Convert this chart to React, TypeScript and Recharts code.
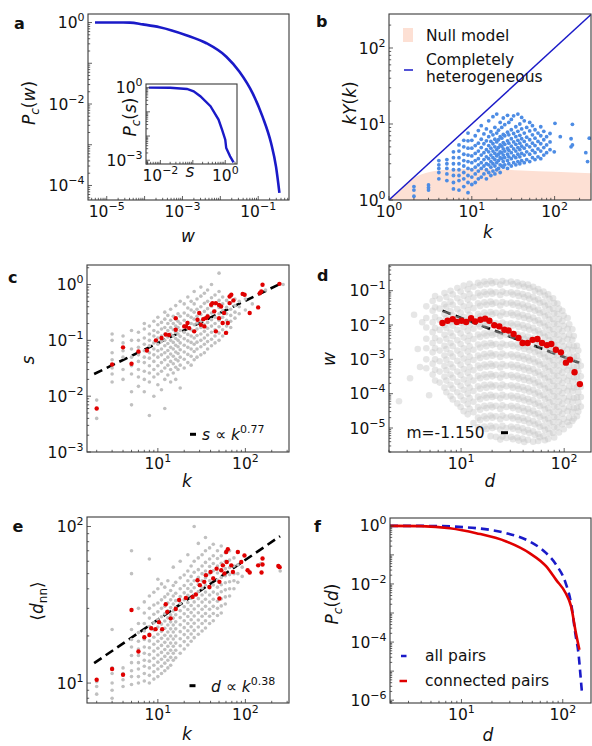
import React from 'react';
import { ComposedChart, Scatter, Line, Area, XAxis, YAxis } from 'recharts';

const FONT = 'DejaVu Sans, sans-serif';
const AX = '#3a3a3a';
const TXT = '#111';
const BLUE = '#1a1ac8';
const RED = '#e00000';
const GRAY = '#c0c0c0';
const SKY = '#4d8ce4';
const SALMON = '#fde0d4';

// ---- a: P_c(w)
const aW = [4.9e-6, 1.5e-5, 4.1e-5, 9e-5, 2.5e-4, 1.26e-3, 4.3e-3, 0.0144, 0.032, 0.072, 0.13, 0.22, 0.295, 0.363];
const aP = [1, 1, 0.995, 0.9, 0.77, 0.49, 0.31, 0.145, 0.062, 0.018, 0.0049, 0.00107, 2.9e-4, 6.6e-5];
// inset: P_c(s)
const sS = [0.0044, 0.02, 0.066, 0.106, 0.17, 0.35, 0.62, 0.8, 1.0, 1.07, 1.41, 1.8];
const sP = [1, 0.99, 0.88, 0.7, 0.44, 0.17, 0.048, 0.018, 0.0071, 0.0032, 0.00145, 0.00082];

// ---- b: kY(k)
const bNullK = [1, 1.15, 1.35, 1.8, 2.4, 3.2, 5, 10, 20, 40, 100, 275];
const bNullHi = [1, 1.12, 1.35, 1.83, 2.15, 2.35, 2.5, 2.58, 2.55, 2.45, 2.35, 2.25];
const bDiagK = [1, 275];
const bCols: [number, number[]][] = [
  [2, [1.12, 1.35, 1.5]],
  [3, [1.35, 1.45, 1.58]],
  [4, [1.9, 2.3, 2.6, 2.9, 3.3]],
  [5, [1.8, 2.2, 2.6, 3.0, 3.4]],
  [6, [1.4, 1.7, 2.1, 2.5, 3.0, 3.6, 4.3]],
  [7, [1.35, 1.8, 2.1, 2.5, 3.0, 3.6, 4.4, 5.3]],
  [8, [1.5, 1.9, 2.3, 2.8, 3.3, 4.0, 5.0, 6.1]],
  [9, [1.25, 1.7, 2.1, 2.6, 3.2, 3.9, 4.8, 6.0, 7.6]],
  [10, [1.6, 2.0, 2.5, 3.1, 3.8, 4.8, 6.1]],
  [11, [1.7, 2.2, 2.7, 3.3, 4.1, 5.2, 7.0]],
  [12, [1.9, 2.4, 2.9, 3.5, 4.4, 5.6, 8.2]],
  [13, [2.0, 2.6, 3.1, 3.9, 4.9, 6.3, 9.5]],
  [14, [2.2, 2.8, 3.4, 4.2, 5.5, 7.4]],
  [15, [1.9, 2.5, 3.0, 3.7, 4.6, 6.0, 8.6]],
  [16, [2.3, 2.9, 3.5, 4.3, 5.2, 6.8, 11]],
  [17, [2.1, 2.7, 3.2, 3.9, 4.8, 5.9, 7.9]],
  [18, [2.4, 3.0, 3.6, 4.4, 5.5, 7.2, 12.5]],
  [19, [2.2, 2.8, 3.4, 4.1, 5.0, 6.3, 9.0]],
  [20, [2.5, 3.1, 3.8, 4.6, 5.8, 7.6, 13.5]],
  [21, [2.6, 3.3, 4.0, 4.9, 6.2, 8.3]],
  [22, [2.3, 2.9, 3.6, 4.3, 5.3, 6.8, 10.5]],
  [23, [2.8, 3.5, 4.2, 5.1, 6.5, 9.0]],
  [24, [2.7, 3.2, 3.9, 4.7, 5.7, 7.3, 12.0]],
  [25, [2.9, 3.6, 4.4, 5.4, 7.0, 9.8]],
  [27, [2.6, 3.3, 4.0, 4.8, 6.0, 7.8, 13.0]],
  [28, [3.0, 3.7, 4.5, 5.6, 7.2, 10.5]],
  [30, [2.8, 3.5, 4.2, 5.1, 6.4, 8.4, 11.5]],
  [32, [3.1, 3.8, 4.7, 5.8, 7.5, 12.8]],
  [34, [2.9, 3.6, 4.4, 5.4, 6.8, 9.2]],
  [36, [3.2, 4.0, 4.9, 6.1, 8.0, 13.5]],
  [38, [3.0, 3.7, 4.6, 5.6, 7.1, 10.0]],
  [40, [3.3, 4.1, 5.1, 6.4, 8.6, 12.2]],
  [43, [3.1, 3.9, 4.8, 5.9, 7.6, 11.0]],
  [46, [3.4, 4.3, 5.3, 6.7, 9.0]],
  [50, [3.2, 4.0, 5.0, 6.2, 8.1, 10.5]],
  [54, [3.6, 4.5, 5.6, 7.2, 9.5]],
  [58, [3.4, 4.2, 5.2, 6.5, 8.4]],
  [63, [3.7, 4.7, 5.9, 7.6]],
  [68, [3.5, 4.4, 5.5, 7.0, 9.2]],
  [74, [3.9, 4.9, 6.2, 8.0]],
  [80, [4.2, 5.3, 6.8]],
  [88, [4.6, 5.8, 7.5]],
  [99, [4.3]],
  [101, [10.2]],
  [117, [6.8]],
  [158, [5.0, 6.4]],
  [164, [5.3, 9.9]],
  [238, [4.2]],
  [250, [3.2]],
  [262, [6.5]],
];

// ---- c: s vs k
const cGray: [number, number[]][] = [
  [2, [0.004, 0.0085]],
  [3, [0.018, 0.025, 0.032, 0.045, 0.06, 0.1, 0.13]],
  [4, [0.02, 0.03, 0.05, 0.065, 0.09, 0.12]],
  [5, [0.007, 0.012, 0.025, 0.035, 0.05, 0.07, 0.1, 0.15]],
  [6, [0.015, 0.022, 0.03, 0.042, 0.055, 0.075, 0.1, 0.14]],
  [7, [0.012, 0.02, 0.028, 0.04, 0.05, 0.065, 0.085, 0.11, 0.16, 0.2]],
  [8, [0.0045, 0.018, 0.026, 0.035, 0.048, 0.06, 0.08, 0.1, 0.13, 0.18]],
  [9, [0.01, 0.022, 0.03, 0.042, 0.055, 0.07, 0.09, 0.12, 0.15, 0.22]],
  [10, [0.016, 0.025, 0.035, 0.05, 0.065, 0.085, 0.11, 0.14, 0.19, 0.26]],
  [11, [0.013, 0.028, 0.04, 0.055, 0.07, 0.095, 0.12, 0.16, 0.21]],
  [12, [0.006, 0.02, 0.032, 0.045, 0.06, 0.08, 0.1, 0.13, 0.17, 0.24, 0.32]],
  [13, [0.024, 0.036, 0.05, 0.066, 0.088, 0.115, 0.15, 0.2, 0.28]],
  [14, [0.018, 0.03, 0.042, 0.057, 0.075, 0.1, 0.13, 0.17, 0.23, 0.36]],
  [15, [0.026, 0.038, 0.052, 0.07, 0.092, 0.12, 0.155, 0.2, 0.27]],
  [16, [0.02, 0.033, 0.046, 0.062, 0.082, 0.108, 0.14, 0.18, 0.24, 0.42]],
  [17, [0.03, 0.043, 0.058, 0.077, 0.1, 0.13, 0.17, 0.22, 0.3]],
  [18, [0.014, 0.036, 0.05, 0.068, 0.09, 0.118, 0.15, 0.2, 0.27, 0.5]],
  [20, [0.032, 0.046, 0.062, 0.082, 0.107, 0.14, 0.18, 0.23, 0.31, 0.45]],
  [22, [0.04, 0.056, 0.075, 0.098, 0.128, 0.165, 0.21, 0.28, 0.38, 0.6]],
  [24, [0.036, 0.052, 0.07, 0.092, 0.12, 0.155, 0.2, 0.26, 0.35, 0.5]],
  [26, [0.045, 0.063, 0.085, 0.11, 0.145, 0.19, 0.24, 0.32, 0.45, 0.75]],
  [28, [0.05, 0.07, 0.093, 0.122, 0.16, 0.205, 0.27, 0.36, 0.55]],
  [31, [0.055, 0.077, 0.1, 0.13, 0.17, 0.22, 0.29, 0.4, 0.62, 0.9]],
  [34, [0.06, 0.085, 0.11, 0.145, 0.19, 0.25, 0.33, 0.46, 0.7]],
  [37, [0.07, 0.095, 0.125, 0.165, 0.21, 0.28, 0.37, 0.5, 0.8]],
  [41, [0.08, 0.105, 0.14, 0.18, 0.235, 0.31, 0.41, 0.58, 1.0]],
  [45, [0.09, 0.12, 0.155, 0.2, 0.26, 0.34, 0.45, 0.65]],
  [50, [0.1, 0.135, 0.175, 0.23, 0.3, 0.39, 0.52, 0.75, 1.6]],
  [55, [0.12, 0.155, 0.2, 0.26, 0.34, 0.45, 0.6]],
  [61, [0.14, 0.18, 0.23, 0.3, 0.39, 0.52]],
  [68, [0.17, 0.22, 0.28, 0.36, 0.47, 0.62]],
  [76, [0.25, 0.32, 0.42, 0.55]],
  [85, [0.3, 0.4, 0.5]],
  [100, [0.35, 0.55]],
  [120, [0.45]],
  [170, [0.8]],
  [270, [1.0]],
];
const cRed: [number, number][] = [
  [2, 0.006], [3, 0.037], [4, 0.075], [5, 0.038], [6, 0.063], [7.5, 0.066], [9.5, 0.1], [11, 0.11],
  [12.3, 0.127], [13.4, 0.125], [16, 0.155], [16, 0.25], [20, 0.178], [21, 0.178], [21.8, 0.205],
  [22.8, 0.166], [26, 0.145], [28.4, 0.234], [29.7, 0.31], [31, 0.19], [33, 0.24], [34, 0.178],
  [35.5, 0.25], [37, 0.268], [40.7, 0.434], [42, 0.465], [44, 0.33], [46, 0.145], [46, 0.465],
  [50, 0.25], [50, 0.43], [52.8, 0.405], [55, 0.205], [57, 0.31], [60, 0.136], [63, 0.205],
  [66, 0.61], [66, 0.465], [69, 0.655], [73, 0.52], [93, 0.68], [98, 0.655], [112, 0.31],
  [140, 0.39], [146, 0.7], [152, 0.75], [157, 0.99], [245, 1.03],
];
const cFit: [number, number][] = [[1.87, 0.025], [250, 1.03]];

// ---- d: w vs d (dense cloud, read column by column)
const dGray: [number, number[]][] = [
  [2.5, [6e-5]], [3.2, [2.8e-4]], [3.5, [0.02]], [3.8, [0.002]], [4.0, [6e-4]], [4.2, [0.012]], [4.9, [9e-5]],
  [4.6, [0.035, 0.016, 0.0085, 0.004, 0.0021, 0.001, 5.5e-4]],
  [5.3, [0.05, 0.026, 0.012, 0.0062, 0.003, 0.0016, 7.5e-4, 3.6e-4]],
  [5.6, [0.07, 0.033, 0.017, 0.0082, 0.0042, 0.0021, 0.001, 5e-4, 2.4e-4]],
  [6.2, [0.058, 0.03, 0.014, 0.0072, 0.0035, 0.0018, 8.8e-4, 4.4e-4, 2.1e-4]],
  [6.9, [0.085, 0.04, 0.021, 0.01, 0.0052, 0.0025, 0.0013, 6.4e-4, 3.1e-4, 1.5e-4]],
  [7.2, [0.065, 0.034, 0.016, 0.0082, 0.004, 0.002, 0.00098, 4.8e-4, 2.4e-4, 1.1e-4]],
  [7.9, [0.1, 0.048, 0.025, 0.012, 0.006, 0.003, 0.0015, 7.3e-4, 3.6e-4, 1.8e-4, 8.5e-5]],
  [8.3, [0.078, 0.039, 0.019, 0.0095, 0.0047, 0.0024, 0.0012, 5.8e-4, 2.9e-4, 1.4e-4, 6.8e-5]],
  [9.2, [0.12, 0.06, 0.029, 0.015, 0.0073, 0.0036, 0.0018, 9e-4, 4.4e-4, 2.2e-4, 1.1e-4, 5.2e-5]],
  [9.9, [0.095, 0.046, 0.023, 0.0115, 0.0057, 0.0028, 0.0014, 7e-4, 3.5e-4, 1.7e-4, 8.4e-5, 4.1e-5]],
  [10.6, [0.14, 0.07, 0.035, 0.017, 0.0086, 0.0043, 0.0021, 0.00105, 5.2e-4, 2.6e-4, 1.3e-4, 6.4e-5, 3.1e-5]],
  [11.6, [0.11, 0.055, 0.027, 0.0135, 0.0068, 0.0034, 0.0017, 8.3e-4, 4.1e-4, 2e-4, 1e-4, 5e-5, 2.5e-5]],
  [12.1, [0.16, 0.08, 0.039, 0.02, 0.0098, 0.0049, 0.0024, 0.0012, 6e-4, 3e-4, 1.5e-4, 7.4e-5, 3.6e-5]],
  [13.2, [0.13, 0.063, 0.031, 0.0155, 0.0078, 0.0039, 0.0019, 9.6e-4, 4.8e-4, 2.4e-4, 1.2e-4, 5.8e-5, 2.9e-5, 1.4e-5]],
  [14.6, [0.17, 0.086, 0.043, 0.021, 0.0107, 0.0053, 0.0027, 0.0013, 6.6e-4, 3.3e-4, 1.65e-4, 8.2e-5, 4.1e-5, 2e-5, 1.05e-5]],
  [15.3, [0.145, 0.072, 0.036, 0.018, 0.009, 0.0045, 0.0022, 0.0011, 5.6e-4, 2.8e-4, 1.4e-4, 6.9e-5, 3.4e-5, 1.7e-5]],
  [16.8, [0.185, 0.092, 0.046, 0.023, 0.0115, 0.0057, 0.0029, 0.00143, 7.1e-4, 3.6e-4, 1.8e-4, 8.9e-5, 4.4e-5, 2.2e-5, 1.1e-5]],
  [17.6, [0.155, 0.078, 0.039, 0.0195, 0.0097, 0.0049, 0.0024, 0.0012, 6.1e-4, 3e-4, 1.5e-4, 7.6e-5, 3.8e-5, 1.9e-5, 9.4e-6]],
  [19.3, [0.19, 0.095, 0.048, 0.024, 0.012, 0.006, 0.003, 0.0015, 7.4e-4, 3.7e-4, 1.85e-4, 9.2e-5, 4.6e-5, 2.3e-5, 1.15e-5, 5.8e-6]],
  [20.1, [0.165, 0.082, 0.041, 0.0205, 0.0102, 0.0051, 0.0026, 0.00128, 6.4e-4, 3.2e-4, 1.6e-4, 8e-5, 4e-5, 2e-5, 1e-5]],
  [21.8, [0.18, 0.09, 0.045, 0.0225, 0.0112, 0.0056, 0.0028, 0.0014, 7e-4, 3.5e-4, 1.75e-4, 8.7e-5, 4.4e-5, 2.2e-5, 1.1e-5, 5.5e-6]],
  [24, [0.15, 0.075, 0.037, 0.0186, 0.0093, 0.0047, 0.0023, 0.00117, 5.8e-4, 2.9e-4, 1.46e-4, 7.3e-5, 3.6e-5, 1.8e-5, 9e-6, 4.6e-6]],
  [25.2, [0.19, 0.094, 0.047, 0.0235, 0.0118, 0.0059, 0.0029, 0.00147, 7.3e-4, 3.7e-4, 1.83e-4, 9.2e-5, 4.6e-5, 2.3e-5, 1.15e-5, 5.7e-6]],
  [27.5, [0.17, 0.084, 0.042, 0.021, 0.0105, 0.0052, 0.0026, 0.0013, 6.5e-4, 3.3e-4, 1.64e-4, 8.2e-5, 4.1e-5, 2e-5, 1e-5, 5.1e-6]],
  [30.5, [0.185, 0.09, 0.045, 0.0226, 0.0113, 0.0056, 0.0028, 0.0014, 7e-4, 3.5e-4, 1.76e-4, 8.8e-5, 4.4e-5, 2.2e-5, 1.1e-5, 5.5e-6]],
  [31.8, [0.155, 0.077, 0.039, 0.0194, 0.0097, 0.0048, 0.0024, 0.0012, 6e-4, 3e-4, 1.5e-4, 7.6e-5, 3.8e-5, 1.9e-5, 9.5e-6, 4.7e-6]],
  [35, [0.175, 0.087, 0.044, 0.0218, 0.0109, 0.0055, 0.0027, 0.00136, 6.8e-4, 3.4e-4, 1.7e-4, 8.5e-5, 4.3e-5, 2.1e-5, 1.07e-5, 5.3e-6]],
  [36.2, [0.14, 0.07, 0.035, 0.0175, 0.0088, 0.0044, 0.0022, 0.0011, 5.5e-4, 2.75e-4, 1.37e-4, 6.9e-5, 3.4e-5, 1.7e-5, 8.6e-6, 4.3e-6]],
  [39.5, [0.16, 0.08, 0.04, 0.02, 0.01, 0.005, 0.0025, 0.00125, 6.2e-4, 3.1e-4, 1.56e-4, 7.8e-5, 3.9e-5, 1.95e-5, 9.8e-6, 4.9e-6]],
  [41, [0.13, 0.064, 0.032, 0.016, 0.008, 0.004, 0.002, 0.001, 5e-4, 2.5e-4, 1.25e-4, 6.3e-5, 3.1e-5, 1.6e-5, 7.8e-6, 3.9e-6]],
  [44.5, [0.15, 0.073, 0.037, 0.0183, 0.0092, 0.0046, 0.0023, 0.00114, 5.7e-4, 2.9e-4, 1.43e-4, 7.1e-5, 3.6e-5, 1.8e-5, 8.9e-6, 4.5e-6]],
  [46, [0.12, 0.058, 0.029, 0.0146, 0.0073, 0.0036, 0.0018, 9.1e-4, 4.6e-4, 2.3e-4, 1.14e-4, 5.7e-5, 2.8e-5, 1.4e-5, 7.1e-6]],
  [50, [0.13, 0.066, 0.033, 0.0165, 0.0083, 0.0041, 0.0021, 0.00103, 5.2e-4, 2.6e-4, 1.3e-4, 6.5e-5, 3.2e-5, 1.6e-5, 8e-6, 4e-6]],
  [52, [0.1, 0.052, 0.026, 0.013, 0.0065, 0.0032, 0.0016, 8.1e-4, 4e-4, 2e-4, 1e-4, 5e-5, 2.5e-5, 1.27e-5, 6.3e-6]],
  [56, [0.112, 0.056, 0.028, 0.014, 0.007, 0.0035, 0.00175, 8.8e-4, 4.4e-4, 2.2e-4, 1.1e-4, 5.5e-5, 2.7e-5, 1.37e-5, 6.8e-6, 4.2e-6]],
  [58, [0.088, 0.044, 0.022, 0.011, 0.0055, 0.0027, 0.00137, 6.9e-4, 3.4e-4, 1.7e-4, 8.6e-5, 4.3e-5, 2.1e-5, 1.07e-5, 5.4e-6]],
  [63, [0.095, 0.047, 0.024, 0.0118, 0.0059, 0.003, 0.00148, 7.4e-4, 3.7e-4, 1.85e-4, 9.2e-5, 4.6e-5, 2.3e-5, 1.15e-5, 5.8e-6]],
  [65, [0.072, 0.036, 0.018, 0.009, 0.0045, 0.0023, 0.00113, 5.6e-4, 2.8e-4, 1.4e-4, 7e-5, 3.5e-5, 1.76e-5, 8.8e-6, 4.4e-6]],
  [70, [0.078, 0.039, 0.0195, 0.0098, 0.0049, 0.0024, 0.00122, 6.1e-4, 3e-4, 1.5e-4, 7.6e-5, 3.8e-5, 1.9e-5, 9.5e-6, 4.8e-6]],
  [72, [0.058, 0.029, 0.0145, 0.0072, 0.0036, 0.0018, 9e-4, 4.5e-4, 2.25e-4, 1.13e-4, 5.6e-5, 2.8e-5, 1.4e-5, 7e-6]],
  [78, [0.06, 0.03, 0.015, 0.0075, 0.0038, 0.0019, 9.4e-4, 4.7e-4, 2.35e-4, 1.17e-4, 5.9e-5, 2.9e-5, 1.5e-5, 7.3e-6]],
  [80, [0.044, 0.022, 0.011, 0.0055, 0.0027, 0.00137, 6.8e-4, 3.4e-4, 1.7e-4, 8.5e-5, 4.3e-5, 2.1e-5, 1.07e-5, 5.3e-6]],
  [86, [0.042, 0.021, 0.0105, 0.0052, 0.0026, 0.0013, 6.6e-4, 3.3e-4, 1.64e-4, 8.2e-5, 4.1e-5, 2.05e-5, 1.03e-5]],
  [89, [0.03, 0.015, 0.0076, 0.0038, 0.0019, 9.5e-4, 4.7e-4, 2.4e-4, 1.19e-4, 5.9e-5, 3e-5, 1.5e-5, 7.4e-6]],
  [96, [0.026, 0.013, 0.0066, 0.0033, 0.00165, 8.2e-4, 4.1e-4, 2.05e-4, 1.03e-4, 5.1e-5, 2.6e-5, 1.28e-5]],
  [99, [0.019, 0.0095, 0.0047, 0.0024, 0.00118, 5.9e-4, 2.95e-4, 1.47e-4, 7.4e-5, 3.7e-5, 1.84e-5, 9.2e-6]],
  [108, [0.016, 0.0078, 0.0039, 0.00195, 9.8e-4, 4.9e-4, 2.4e-4, 1.22e-4, 6.1e-5, 3.1e-5, 1.5e-5]],
  [112, [0.0105, 0.0052, 0.0026, 0.0013, 6.5e-4, 3.3e-4, 1.63e-4, 8.1e-5, 4.1e-5, 2e-5, 1.2e-5]],
  [120, [0.0075, 0.0037, 0.00186, 9.3e-4, 4.7e-4, 2.3e-4, 1.17e-4, 5.8e-5, 2.9e-5, 1.6e-5]],
  [124, [0.0048, 0.0024, 0.0012, 6e-4, 3e-4, 1.5e-4, 7.5e-5, 3.8e-5, 1.9e-5]],
  [133, [0.0025, 0.00125, 6.3e-4, 3.1e-4, 1.57e-4, 7.8e-5, 3.9e-5, 2.2e-5]],
  [137, [0.0018, 9e-4, 4.5e-4, 2.2e-4, 1.1e-4, 5.6e-5, 3e-5]],
  [145, [6.5e-4, 3.2e-4, 1.6e-4, 8e-5, 4.2e-5]],
];
const dRed: [number, number][] = [
  [6.6, 0.0115], [7.4, 0.0133], [8.3, 0.0148], [9.1, 0.0122], [10.1, 0.0133], [11.2, 0.0122],
  [12.5, 0.0158], [13.7, 0.0127], [15.4, 0.0143], [17.1, 0.0153], [18.8, 0.0133], [21, 0.0098],
  [23.5, 0.0091], [26.3, 0.0073], [28.9, 0.0069], [32.3, 0.0055], [36, 0.0042], [39.5, 0.003],
  [44.2, 0.003], [49.4, 0.0037], [55, 0.0039], [61, 0.003], [68, 0.0026], [75, 0.0028],
  [83, 0.0019], [93, 0.0016], [104, 0.0008], [114, 0.00098], [126, 0.00042], [142, 0.00019],
];
const dFit: [number, number][] = [[6.6, 0.026], [140, 0.00079]];

// ---- e: <d_nn> vs k
const eGray: [number, number[]][] = [
  [2, [8.5, 9.5, 10.2]],
  [3, [8, 9, 10, 11.5, 12.5, 22]],
  [4, [9.5, 10.5, 11.5, 12.5]],
  [5, [9.8, 11, 12, 13.5, 15, 17, 19, 22, 50, 70]],
  [6, [10, 11, 12.3, 13.5, 15, 16.5, 18.5, 21, 24, 30]],
  [7, [10.3, 11.5, 12.8, 14, 15.5, 17, 19, 21.5, 24, 28, 33]],
  [8, [10, 11.2, 12.5, 13.8, 15.2, 16.8, 18.6, 20.6, 23, 26, 30, 36, 62]],
  [9, [10.6, 11.8, 13, 14.4, 16, 17.7, 19.6, 21.8, 24.3, 27.5, 31.5, 38]],
  [10, [11, 12.3, 13.6, 15.1, 16.7, 18.5, 20.5, 22.8, 25.4, 28.5, 32.5, 40, 46]],
  [11, [11.5, 12.8, 14.2, 15.7, 17.4, 19.3, 21.4, 23.8, 26.5, 30, 34, 43]],
  [12, [12, 13.4, 14.8, 16.4, 18.2, 20.2, 22.4, 24.9, 27.7, 31, 35.5, 41]],
  [13, [12.5, 14, 15.5, 17.2, 19.1, 21.2, 23.5, 26.1, 29, 32.5, 37, 45]],
  [14, [13, 14.6, 16.2, 18, 20, 22.2, 24.6, 27.3, 30.4, 34, 39]],
  [15, [14, 15.5, 17.2, 19.1, 21.2, 23.5, 26, 28.9, 32, 36, 42, 55]],
  [16, [14.5, 16.2, 18, 20, 22.2, 24.6, 27.3, 30.3, 33.6, 37.5, 44]],
  [18, [15.5, 17.3, 19.2, 21.3, 23.6, 26.2, 29, 32.2, 35.7, 40, 47, 60]],
  [20, [16.5, 18.4, 20.4, 22.6, 25, 27.7, 30.7, 34, 37.7, 42, 49]],
  [22, [17.5, 19.5, 21.6, 24, 26.6, 29.5, 32.7, 36.3, 40.2, 45, 52, 66]],
  [24, [18.5, 20.6, 22.9, 25.4, 28.2, 31.3, 34.7, 38.5, 42.7, 48, 56]],
  [26, [19.5, 21.7, 24.1, 26.8, 29.7, 33, 36.6, 40.6, 45, 51, 60, 100]],
  [29, [20.5, 22.8, 25.3, 28.1, 31.2, 34.6, 38.4, 42.6, 47.3, 53, 63, 78]],
  [32, [21.5, 24, 26.7, 29.6, 32.9, 36.5, 40.5, 45, 50, 56, 66]],
  [35, [22.5, 25, 27.8, 30.9, 34.3, 38.1, 42.3, 47, 52, 59, 70, 85]],
  [39, [24, 26.7, 29.6, 32.9, 36.5, 40.5, 45, 50, 55.5, 62, 73]],
  [43, [25, 27.8, 30.9, 34.3, 38.1, 42.3, 47, 52.2, 58, 65, 77]],
  [48, [27, 30, 33.3, 37, 41, 45.5, 50.5, 56, 62.5, 70]],
  [53, [28, 31.1, 34.5, 38.3, 42.5, 47.2, 52.4, 58.2, 65, 75]],
  [59, [32, 35.5, 39.4, 43.7, 48.5, 53.8, 60, 68]],
  [66, [36, 40, 44.4, 49.3, 54.7, 61, 70]],
  [74, [40, 45, 50, 56, 63]],
  [82, [44, 50, 57]],
  [92, [48, 55]],
  [110, [52]],
  [150, [58]],
  [250, [52]],
];
const eRed: [number, number][] = [
  [2, 10.5], [3, 12.3], [4, 11.3], [5, 29.3], [6, 15.9], [7, 19.6], [8, 20.3], [8.4, 22.4],
  [9.4, 22.1], [10.3, 24.5], [11.2, 22.1], [12.3, 31.9], [12.8, 28.5], [14, 25.9], [16, 29.7],
  [17.5, 33.9], [20.9, 35], [24.9, 35.5], [27.2, 36.8], [28.4, 45.4], [30.2, 42.2], [33.9, 44.3],
  [35.4, 48.9], [38.8, 41.1], [40, 51.3], [42.9, 46.6], [46.9, 53.8], [50.5, 34.7], [50.5, 44.3],
  [53, 52.5], [55.3, 56.5], [57.6, 50.1], [60.4, 68.7], [61.2, 59.3], [63, 71.5], [69, 56.5],
  [72, 51.3], [82, 68.7], [89.7, 59.3], [97.6, 65.3], [106, 52.5], [112, 50.8], [140, 56.5],
  [153, 50.8], [157, 57.2], [157, 62.4], [238, 56], [246, 55],
];
const eFit: [number, number][] = [[1.87, 13.4], [249, 86.7]];

// ---- f: P_c(d)
const fAllD = [1.97, 5, 14, 27.7, 47, 68.7, 86, 107, 121, 133, 144, 149, 155];
const fAllP = [1, 0.99, 0.83, 0.56, 0.29, 0.115, 0.046, 0.0105, 0.0021, 2e-4, 3.2e-5, 8.3e-6, 1.7e-6];
const fConD = [1.97, 4, 7.7, 14, 27.7, 47, 68.7, 86, 107, 121, 135, 146];
const fConP = [1, 0.98, 0.83, 0.56, 0.29, 0.115, 0.04, 0.0138, 0.0048, 0.00166, 2e-4, 5.4e-5];

// tick label exponents
const aXLab = [-5, -3, -1];
const aYLab = [0, -2, -4];
const sXLab = [-2, 0];
const sYLab = [0, -3];
const bLab = [0, 1, 2];
const kLab = [1, 2];
const cYLab = [0, -1, -2, -3];
const dYLab = [-1, -2, -3, -4, -5];
const eYLab = [1, 2];
const fYLab = [0, -2, -4, -6];

const xy = (xs: number[], ys: number[]) => xs.map((x, i) => ({ x, y: ys[i] }));
const pairs = (p: [number, number][]) => p.map(([x, y]) => ({ x, y }));
const cols = (c: [number, number[]][]) => c.flatMap(([x, ys]) => ys.map((y) => ({ x, y })));

const logTicks = (lo: number, hi: number) => {
  const out: number[] = [];
  for (let e = Math.floor(Math.log10(lo)); e <= Math.ceil(Math.log10(hi)); e++) {
    for (let m = 1; m < 10; m++) {
      const v = m * Math.pow(10, e);
      if (v >= lo * 0.9999 && v <= hi * 1.0001) out.push(v);
    }
  }
  return out;
};
const expOf = (v: number) => {
  const l = Math.log10(v);
  const e = Math.round(l);
  return Math.abs(l - e) < 1e-6 ? e : null;
};
const supTxt = (e: number) => (e < 0 ? '\u2212' + -e : String(e));
const FS = 15.5;

const xTick = (labels: number[]) => (p: any) => {
  const e = expOf(p.payload.value);
  return (
    <g>
      <line x1={p.x} x2={p.x} y1={p.y} y2={p.y - (e !== null ? 4 : 2.2)} stroke={AX} strokeWidth={0.8} />
      {e !== null && labels.includes(e) && (
        <text x={p.x} y={p.y + 17} textAnchor="middle" fontSize={FS} fill={TXT} fontFamily={FONT}>
          10<tspan dy={-7} fontSize={11}>{supTxt(e)}</tspan>
        </text>
      )}
    </g>
  );
};
const yTick = (labels: number[]) => (p: any) => {
  const e = expOf(p.payload.value);
  return (
    <g>
      <line x1={p.x} x2={p.x + (e !== null ? 4 : 2.2)} y1={p.y} y2={p.y} stroke={AX} strokeWidth={0.8} />
      {e !== null && labels.includes(e) && (
        <text x={p.x - 3.5} y={p.y + 5.6} textAnchor="end" fontSize={FS} fill={TXT} fontFamily={FONT}>
          10<tspan dy={-7} fontSize={11}>{supTxt(e)}</tspan>
        </text>
      )}
    </g>
  );
};

type Box = { left: number; top: number; w: number; h: number };
const YW = 46, XH = 24, MT = 12, MR = 4;

const boxA: Box = { left: 88, top: 14, w: 201, h: 186 };
const boxS: Box = { left: 146, top: 84, w: 91, h: 80 };
const boxB: Box = { left: 389, top: 14, w: 202, h: 186 };
const boxC: Box = { left: 87, top: 265, w: 202, h: 187 };
const boxD: Box = { left: 389, top: 265, w: 202, h: 187 };
const boxE: Box = { left: 87, top: 517, w: 202, h: 186 };
const boxF: Box = { left: 390, top: 518, w: 201, h: 185 };

const dot = (r: number, fill: string, op = 1) => (p: any) =>
  <circle cx={p.cx} cy={p.cy} r={r} fill={fill} fillOpacity={op} />;

function Panel(props: {
  box: Box; xd: [number, number]; yd: [number, number]; xl: number[]; yl: number[]; children: React.ReactNode;
}) {
  const { box, xd, yd, xl, yl } = props;
  return (
    <div style={{ position: 'absolute', left: box.left - YW, top: box.top - MT }}>
      <ComposedChart width={box.w + YW + MR} height={box.h + MT + XH} margin={{ top: MT, right: MR, bottom: 0, left: 0 }}>
        <XAxis type="number" dataKey="x" scale="log" domain={xd} allowDataOverflow ticks={logTicks(xd[0], xd[1])}
          interval={0} tickSize={0} tickMargin={0} axisLine={false} height={XH} tick={xTick(xl)} />
        <YAxis type="number" dataKey="y" scale="log" domain={yd} allowDataOverflow ticks={logTicks(yd[0], yd[1])}
          interval={0} tickSize={0} tickMargin={0} axisLine={false} width={YW} tick={yTick(yl)} />
        {props.children}
      </ComposedChart>
    </div>
  );
}

const it = { fontStyle: 'italic' as const };
const rot = (x: number, y: number) => `translate(${x},${y}) rotate(-90)`;

function Overlay() {
  const frames = [boxA, boxS, boxB, boxC, boxD, boxE, boxF];
  return (
    <svg width={592} height={746} style={{ position: 'absolute', left: 0, top: 0, pointerEvents: 'none' }}
      fontFamily={FONT} fill={TXT}>
      {frames.map((b, i) => (
        <rect key={i} x={b.left} y={b.top} width={b.w} height={b.h} fill="none" stroke={AX} strokeWidth={1.1} />
      ))}
      {/* panel letters */}
      <g fontWeight="bold" fontSize={16}>
        <text x={14} y={28.5}>a</text>
        <text x={316} y={26.7}>b</text>
        <text x={8} y={283}>c</text>
        <text x={317} y={280.7}>d</text>
        <text x={12.5} y={531.7}>e</text>
        <text x={314} y={531.7}>f</text>
      </g>
      <g fontSize={17}>
        {/* a */}
        <text transform={rot(35, 103)} textAnchor="middle">
          <tspan style={it}>P</tspan><tspan style={it} fontSize={12} dy={4}>c</tspan><tspan dy={-4}>(</tspan><tspan style={it}>w</tspan>)
        </text>
        <text x={188} y={242} textAnchor="middle" style={it}>w</text>
        <text transform={rot(136, 117)} textAnchor="middle">
          <tspan style={it}>P</tspan><tspan style={it} fontSize={12} dy={4}>c</tspan><tspan dy={-4}>(</tspan><tspan style={it}>s</tspan>)
        </text>
        <text x={190} y={177} textAnchor="middle" style={it}>s</text>
        {/* b */}
        <text transform={rot(356, 103)} textAnchor="middle">
          <tspan style={it}>kY</tspan>(<tspan style={it}>k</tspan>)
        </text>
        <text x={488} y={238} textAnchor="middle" style={it}>k</text>
        {/* c */}
        <text transform={rot(33.5, 360)} textAnchor="middle" style={it}>s</text>
        <text x={187} y={487} textAnchor="middle" style={it}>k</text>
        {/* d */}
        <text transform={rot(335, 359)} textAnchor="middle" style={it}>w</text>
        <text x={490} y={487} textAnchor="middle" style={it}>d</text>
        {/* e */}
        <text transform={rot(43, 601)} textAnchor="middle">
          ⟨<tspan style={it}>d</tspan><tspan fontSize={12} dy={4}>nn</tspan><tspan dy={-4}>⟩</tspan>
        </text>
        <text x={187} y={740} textAnchor="middle" style={it}>k</text>
        {/* f */}
        <text transform={rot(338, 604)} textAnchor="middle">
          <tspan style={it}>P</tspan><tspan style={it} fontSize={12} dy={4}>c</tspan><tspan dy={-4}>(</tspan><tspan style={it}>d</tspan>)
        </text>
        <text x={488} y={741} textAnchor="middle" style={it}>d</text>
      </g>
      {/* legend b */}
      <g fontSize={15.5}>
        <rect x={403} y={28} width={10} height={14} fill={SALMON} />
        <text x={426} y={40.7}>Null model</text>
        <line x1={404} x2={413} y1={70} y2={70} stroke={BLUE} strokeWidth={1.5} />
        <text x={426} y={65}>Completely</text>
        <text x={426} y={81.7}>heterogeneous</text>
      </g>
      {/* annotations */}
      <g fontSize={15.5}>
        <line x1={190} x2={196} y1={434.3} y2={434.3} stroke="#000" strokeWidth={3} />
        <text x={202} y={440}>
          <tspan style={it}>s</tspan> ∝ <tspan style={it}>k</tspan><tspan fontSize={11} dy={-7}>0.77</tspan>
        </text>
        <text x={406.5} y={438.3}>m=-1.150</text>
        <line x1={501} x2={508} y1={432.7} y2={432.7} stroke="#000" strokeWidth={3} />
        <line x1={189.5} x2={195.5} y1={685.7} y2={685.7} stroke="#000" strokeWidth={3} />
        <text x={211} y={691.7}>
          <tspan style={it}>d</tspan> ∝ <tspan style={it}>k</tspan><tspan fontSize={11} dy={-7}>0.38</tspan>
        </text>
        <line x1={401} x2={406.5} y1={656} y2={656} stroke={BLUE} strokeWidth={2.5} />
        <text x={425} y={660.5}>all pairs</text>
        <line x1={399.5} x2={407} y1={681} y2={681} stroke={RED} strokeWidth={2.5} />
        <text x={425} y={685.5}>connected pairs</text>
      </g>
    </svg>
  );
}

export default function App() {
  return (
    <div style={{ position: 'absolute', left: 0, top: 0, width: 592, height: 746, overflow: 'hidden', background: '#fff' }}>
      <Panel box={boxA} xd={[3.2e-6, 0.65]} yd={[4.4e-5, 1.62]} xl={aXLab} yl={aYLab}>
        <Line data={xy(aW, aP)} dataKey="y" type="monotone" stroke={BLUE} strokeWidth={2.6} dot={false} isAnimationActive={false} />
      </Panel>
      <Panel box={boxS} xd={[3.6e-3, 2.3]} yd={[7e-4, 1.41]} xl={sXLab} yl={sYLab}>
        <Line data={xy(sS, sP)} dataKey="y" type="linear" stroke={BLUE} strokeWidth={2.4} dot={false} isAnimationActive={false} />
      </Panel>
      <Panel box={boxB} xd={[1, 275]} yd={[1, 280]} xl={bLab} yl={bLab}>
        <Area data={bNullK.map((x, i) => ({ x, y: [1, bNullHi[i]] }))} dataKey="y" type="monotone" fill={SALMON}
          fillOpacity={1} stroke="none" isAnimationActive={false} />
        <Line data={xy(bDiagK, bDiagK)} dataKey="y" stroke={BLUE} strokeWidth={1.4} dot={false} isAnimationActive={false} />
        <Scatter data={cols(bCols)} dataKey="y" shape={dot(1.9, SKY)} isAnimationActive={false} />
      </Panel>
      <Panel box={boxC} xd={[1.55, 315]} yd={[1e-3, 2.24]} xl={kLab} yl={cYLab}>
        <Scatter data={cols(cGray)} dataKey="y" shape={dot(1.8, GRAY)} isAnimationActive={false} />
        <Line data={pairs(cFit)} dataKey="y" stroke="#000" strokeWidth={2.6} strokeDasharray="9 5" dot={false} isAnimationActive={false} />
        <Scatter data={pairs(cRed)} dataKey="y" shape={dot(2.2, RED)} isAnimationActive={false} />
      </Panel>
      <Panel box={boxD} xd={[2, 182]} yd={[2e-6, 0.56]} xl={kLab} yl={dYLab}>
        <Scatter data={cols(dGray)} dataKey="y" shape={dot(3.3, '#c8c8c8', 0.45)} isAnimationActive={false} />
        <Line data={pairs(dFit)} dataKey="y" stroke="#000" strokeWidth={2.8} strokeDasharray="9 5" dot={false} isAnimationActive={false} />
        <Scatter data={pairs(dRed)} dataKey="y" shape={dot(3.2, RED)} isAnimationActive={false} />
      </Panel>
      <Panel box={boxE} xd={[1.55, 315]} yd={[7.46, 115]} xl={kLab} yl={eYLab}>
        <Scatter data={cols(eGray)} dataKey="y" shape={dot(1.8, GRAY)} isAnimationActive={false} />
        <Line data={pairs(eFit)} dataKey="y" stroke="#000" strokeWidth={2.6} strokeDasharray="9 5" dot={false} isAnimationActive={false} />
        <Scatter data={pairs(eRed)} dataKey="y" shape={dot(2.2, RED)} isAnimationActive={false} />
      </Panel>
      <Panel box={boxF} xd={[1.97, 190]} yd={[8e-7, 1.86]} xl={kLab} yl={fYLab}>
        <Line data={xy(fAllD, fAllP)} dataKey="y" type="monotone" stroke={BLUE} strokeWidth={2.6} strokeDasharray="8 5" dot={false} isAnimationActive={false} />
        <Line data={xy(fConD, fConP)} dataKey="y" type="monotone" stroke={RED} strokeWidth={2.6} dot={false} isAnimationActive={false} />
      </Panel>
      <Overlay />
    </div>
  );
}
